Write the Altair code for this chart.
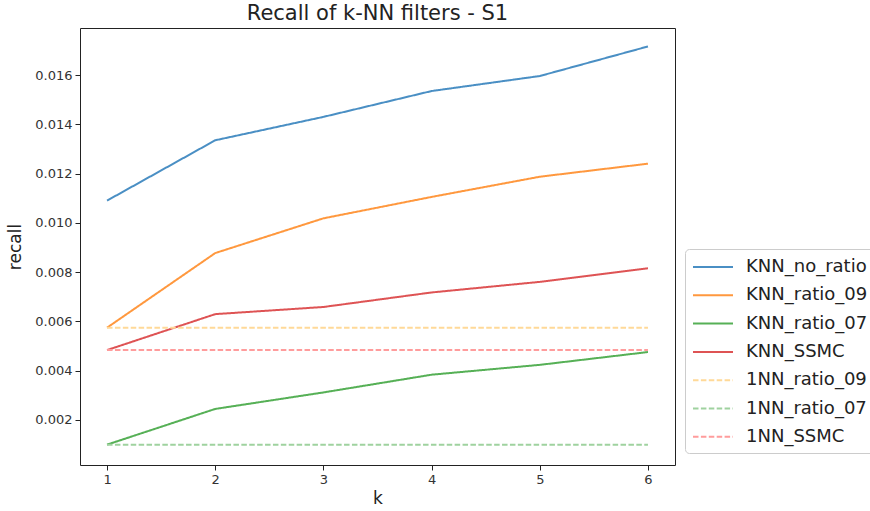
import altair as alt
import pandas as pd

k_values = [1, 2, 3, 4, 5, 6]
knn_no_ratio = [0.01090, 0.01335, 0.01430, 0.01535, 0.01596, 0.01716]
knn_ratio_09 = [0.00574, 0.00877, 0.01018, 0.01105, 0.01187, 0.01240]
knn_ratio_07 = [0.00099, 0.00244, 0.00311, 0.00383, 0.00423, 0.00475]
knn_ssmc = [0.00483, 0.00629, 0.00658, 0.00717, 0.00760, 0.00815]
nn1_ratio_09 = [0.00574] * 6
nn1_ratio_07 = [0.00099] * 6
nn1_ssmc = [0.00483] * 6

series_names = ["KNN_no_ratio", "KNN_ratio_09", "KNN_ratio_07", "KNN_SSMC",
                "1NN_ratio_09", "1NN_ratio_07", "1NN_SSMC"]
series_values = [knn_no_ratio, knn_ratio_09, knn_ratio_07, knn_ssmc,
                 nn1_ratio_09, nn1_ratio_07, nn1_ssmc]
series_colors = ["#4a8fc4", "#ff983e", "#56b056", "#de5354",
                 "#ffd998", "#9fd29f", "#ff9c9c"]
series_dash = [[1, 0], [1, 0], [1, 0], [1, 0], [5.5, 2.4], [5.5, 2.4], [5.5, 2.4]]

y_ticks = [0.002, 0.004, 0.006, 0.008, 0.010, 0.012, 0.014, 0.016]

rows = []
for name, vals in zip(series_names, series_values):
    for k, v in zip(k_values, vals):
        rows.append({"k": k, "recall": v, "series": name})
df = pd.DataFrame(rows)

legend = alt.Legend(
    title=None, orient="none", legendX=605, legendY=221,
    symbolType="M-1,0H3", symbolSize=400, symbolStrokeWidth=2,
    labelFontSize=18, labelFont="DejaVu Sans", labelColor="#222",
    labelOffset=32, rowPadding=8.3, padding=7,
    strokeColor="#cccccc", fillColor="white", cornerRadius=4,
    labelLimit=300,
)

chart = alt.Chart(df).mark_line(strokeWidth=2).encode(
    x=alt.X("k:Q", scale=alt.Scale(domain=[0.75, 6.25], nice=False, zero=False),
            axis=alt.Axis(values=k_values, format="d", title="k")),
    y=alt.Y("recall:Q", scale=alt.Scale(domain=[0.000163, 0.01791], nice=False, zero=False),
            axis=alt.Axis(values=y_ticks, format=".3f", title="recall")),
    color=alt.Color("series:N", scale=alt.Scale(domain=series_names, range=series_colors),
                    legend=legend),
    strokeDash=alt.StrokeDash("series:N", scale=alt.Scale(domain=series_names, range=series_dash),
                              legend=legend),
    order=alt.Order("k:Q"),
).properties(
    width=595, height=437,
    autosize=alt.AutoSizeParams(type="none"),
    padding={"left": 80, "top": 28, "right": 195, "bottom": 46},
    title=alt.TitleParams("Recall of k-NN filters - S1", fontSize=21, fontWeight="normal",
                          font="DejaVu Sans", color="#222", anchor="middle", offset=4),
).configure_view(
    stroke="#222", strokeWidth=1
).configure_axis(
    grid=False, domain=False, tickColor="#222", tickSize=5, tickWidth=1,
    labelFont="DejaVu Sans", labelFontSize=13, labelColor="#333", labelPadding=3,
    titleFont="DejaVu Sans", titleFontSize=17, titleFontWeight="normal", titleColor="#222",
).configure_axisY(titlePadding=10).configure_axisX(titlePadding=4)

chart.save("out.html", embed_options={"renderer": "svg", "actions": False})
